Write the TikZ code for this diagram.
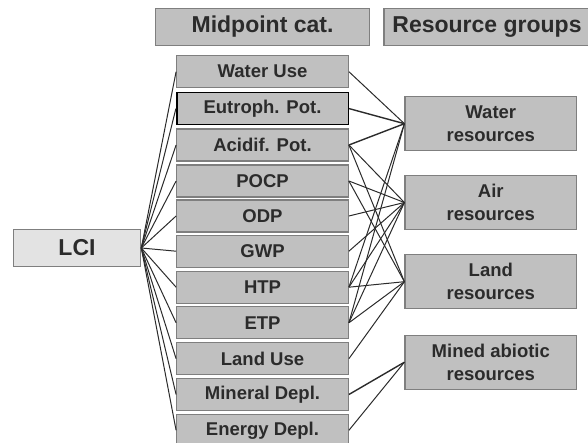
\documentclass[tikz,border=0pt]{standalone}
\usepackage{fontspec}
\setmainfont{Liberation Sans}
\definecolor{boxgray}{HTML}{C0C0C0}
\definecolor{lcigray}{HTML}{E3E3E3}
\definecolor{edgegray}{HTML}{7F7F7F}
\definecolor{inkgray}{HTML}{2B2B2B}
\tikzset{
    headbox/.style={draw=edgegray, line width=1.2pt, fill=boxgray, minimum height=37pt,
        inner sep=0pt, text=inkgray, font=\fontsize{23}{28}\selectfont\bfseries},
    catbox/.style={draw=edgegray, line width=1.2pt, fill=boxgray, minimum width=171.6pt,
        minimum height=32pt, inner sep=0pt, text=inkgray, font=\fontsize{18.5}{23}\selectfont\bfseries},
    resbox/.style={catbox, minimum height=54pt, align=center},
    link/.style={draw=inkgray, line width=1pt},
}
\begin{document}
\begin{tikzpicture}[x=1pt, y=-1pt]
    \useasboundingbox (0,0) rectangle (588,443);

    % column heads
    \node[headbox, minimum width=214pt] (headmid) at (262.5,26.7) {Midpoint cat.};
    \node[headbox, minimum width=206pt] (headres) at (487,26.7) {Resource groups};

    % inventory
    \node[catbox, fill=lcigray, minimum width=127.4pt, minimum height=37.4pt,
        font=\fontsize{23}{28}\selectfont\bfseries] (lci) at (77,248) {LCI};

    % midpoint categories
    \node[catbox] (wateruse) at (262.5,71.7) {Water Use};
    \node[catbox, draw=black, line width=1.6pt] (eutroph) at (262.5,108.6) {Eutroph. Pot.};
    \node[catbox] (acidif) at (262.5,145) {Acidif. Pot.};
    \node[catbox] (pocp) at (262.5,181) {POCP};
    \node[catbox] (odp) at (262.5,216) {ODP};
    \node[catbox] (gwp) at (262.5,251.2) {GWP};
    \node[catbox] (htp) at (262.5,287.2) {HTP};
    \node[catbox] (etp) at (262.5,322.8) {ETP};
    \node[catbox] (landuse) at (262.5,358.7) {Land Use};
    \node[catbox] (mineral) at (262.5,394.5) {Mineral Depl.};
    \node[catbox] (energy) at (262.5,430.3) {Energy Depl.};

    % resource groups
    \node[resbox] (waterres) at (490.8,123.7) {Water\\resources};
    \node[resbox] (airres) at (490.8,202.5) {Air\\resources};
    \node[resbox] (landres) at (490.8,281.7) {Land\\resources};
    \node[resbox] (minedres) at (490.8,362.2) {Mined abiotic\\resources};

    % LCI to midpoint categories
    \draw[link] (lci.east) -- (wateruse.west);
    \draw[link] (lci.east) -- (eutroph.west);
    \draw[link] (lci.east) -- (acidif.west);
    \draw[link] (lci.east) -- (pocp.west);
    \draw[link] (lci.east) -- (odp.west);
    \draw[link] (lci.east) -- (gwp.west);
    \draw[link] (lci.east) -- (htp.west);
    \draw[link] (lci.east) -- (etp.west);
    \draw[link] (lci.east) -- (landuse.west);
    \draw[link] (lci.east) -- (mineral.west);
    \draw[link] (lci.east) -- (energy.west);

    % midpoint categories to resource groups
    \draw[link] (wateruse.east) -- (waterres.west);
    \draw[link, line width=1.4pt] (eutroph.east) -- (waterres.west);
    \draw[link, line width=1.4pt] (acidif.east) -- (waterres.west);
    \draw[link] (acidif.east) -- (airres.west);
    \draw[link] (acidif.east) -- (landres.west);
    \draw[link] (pocp.east) -- (airres.west);
    \draw[link] (pocp.east) -- (landres.west);
    \draw[link] (odp.east) -- (airres.west);
    \draw[link] (gwp.east) -- (airres.west);
    \draw[link] (htp.east) -- (waterres.west);
    \draw[link] (htp.east) -- (airres.west);
    \draw[link] (htp.east) -- (landres.west);
    \draw[link] (etp.east) -- (waterres.west);
    \draw[link] (etp.east) -- (airres.west);
    \draw[link] (etp.east) -- (landres.west);
    \draw[link] (landuse.east) -- (landres.west);
    \draw[link, line width=1.4pt] (mineral.east) -- (minedres.west);
    \draw[link] (energy.east) -- (minedres.west);
\end{tikzpicture}
\end{document}
